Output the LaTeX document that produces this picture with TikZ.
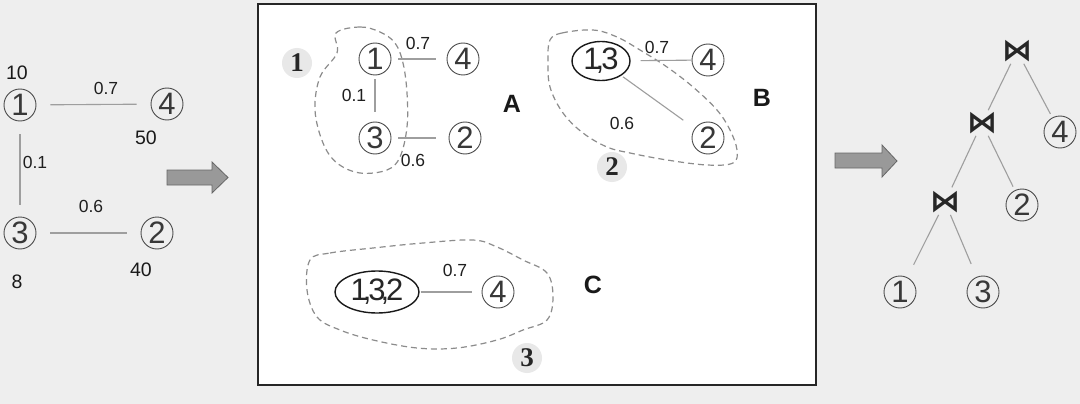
\documentclass[tikz,border=0pt]{standalone}
\usepackage{fontspec}
\setmainfont{Liberation Sans}
\newfontfamily\serifb{Liberation Serif}
\newfontfamily\djv{DejaVu Sans}
\usetikzlibrary{shapes.geometric}
\definecolor{bg}{HTML}{EEEEEE}
\tikzset{
  cnum/.style={circle, draw=black!70, line width=0.9pt, minimum size=32pt, inner sep=0pt,
    font=\fontsize{31}{31}\selectfont, text=black!78},
  wt/.style={font=\fontsize{17.5}{17.5}\selectfont, text=black!88},
  card/.style={font=\fontsize{19.5}{19.5}\selectfont, text=black!90},
  edge/.style={draw=black!38, line width=1.1pt},
  blob/.style={draw=black!45, dash pattern=on 6pt off 4pt, line width=1.2pt},
  grp/.style={font=\bfseries\fontsize{25}{25}\selectfont, text=black!90},
  tag/.style={circle, fill=black!9, minimum size=30pt, inner sep=0pt,
    font=\serifb\bfseries\fontsize{27}{27}\selectfont, text=black!85},
  ell/.style={ellipse, draw=black!90, line width=1.4pt, inner sep=0pt,
    font=\fontsize{31}{31}\selectfont, text=black!85},
  joinop/.style={inner sep=0pt, font=\djv\bfseries\fontsize{30}{30}\selectfont, text=black!85},
  bigarrow/.style={fill=black!40, draw=black!60, line width=0.8pt}
}
\begin{document}
\begin{tikzpicture}[x=1pt,y=-1pt]
\useasboundingbox (0,0) rectangle (1080,404);
\fill[bg] (0,0) rectangle (1080,404);
% ---------- left graph ----------
\node[card] (c10) at (17,73) {10};
\node[cnum] (L1) at (20,105) {1};
\node[cnum] (L4) at (167,104) {4};
\node[cnum] (L3) at (20,233) {3};
\node[cnum] (L2) at (157,233) {2};
\node[card] (c50) at (146,138) {50};
\node[card] (c8) at (17,282) {8};
\node[card] (c40) at (141,270) {40};
\draw[edge, shorten <=14pt, shorten >=14pt] (L1) -- (L4);
\draw[edge, shorten <=13pt, shorten >=12pt] (L1) -- (L3);
\draw[edge, shorten <=14pt, shorten >=14pt] (L3) -- (L2);
\node[wt] (w14) at (106,88) {0.7};
\node[wt] (w13) at (35,162) {0.1};
\node[wt] (w32) at (91,206) {0.6};
% arrow 1
\draw[bigarrow] (167,170) -- (212,170) -- (212,162) -- (228,177.5) -- (212,193) -- (212,185) -- (167,185) -- cycle;
% ---------- middle box ----------
\draw[fill=white, draw=black!85, line width=1.6pt] (258,4) rectangle (816,385);
% region A
\draw[blob] plot[smooth cycle, tension=0.6] coordinates {(336,33) (360,27) (380,32) (395,43) (403,63) (407,93) (407,127) (400,157) (387,170) (360,173) (337,163) (323,143) (315,110) (320,77) (337,53)};
\node[tag] (t1) at (297,63) {1};
\node[cnum] (A1) at (375,59) {1};
\node[cnum] (A4) at (463,59) {4};
\node[cnum] (A3) at (375,138) {3};
\node[cnum] (A2) at (465,138) {2};
\draw[edge, shorten <=7pt, shorten >=11pt] (A1) -- (A4);
\draw[edge, shorten <=4pt, shorten >=10pt] (A1) -- (A3);
\draw[edge, shorten <=7pt, shorten >=13pt] (A3) -- (A2);
\node[wt] (wa14) at (418,43) {0.7};
\node[wt] (wa13) at (354,95) {0.1};
\node[wt] (wa32) at (413,160) {0.6};
\node[grp] (gA) at (512,104) {A};
% region B
\draw[blob] plot[smooth cycle, tension=0.6] coordinates {(550,40) (562,33) (593,30) (617,37) (640,50) (667,67) (693,87) (717,110) (730,130) (737,150) (733,163) (707,165) (667,160) (630,153) (607,147) (583,133) (563,113) (550,87) (548,60)};
\node[ell, minimum width=58pt, minimum height=39pt] (B13) at (601,61) {1\kern-5pt,\kern-3pt3};
\node[cnum] (B4) at (708,60) {4};
\node[cnum] (B2) at (708,138) {2};
\draw[edge, shorten <=10pt, shorten >=0pt] (B13) -- (B4);
\draw[edge, shorten <=2pt, shorten >=14pt] (B13) -- (B2);
\node[wt] (wb4) at (657,47) {0.7};
\node[wt] (wb2) at (622,123) {0.6};
\node[grp] (gB) at (762,98) {B};
\node[tag] (t2) at (612,167) {2};
% region C
\draw[blob] plot[smooth cycle, tension=0.6] coordinates {(310,260) (330,253) (373,248) (423,243) (473,240) (497,247) (523,260) (547,273) (553,297) (547,320) (523,330) (497,340) (457,348) (417,348) (373,340) (340,330) (317,317) (307,290)};
\node[ell, minimum width=84pt, minimum height=42pt] (C132) at (377,292) {1\kern-5pt,\kern-3pt3\kern-5pt,\kern-3pt2};
\node[cnum] (C4) at (498,292) {4};
\draw[edge, shorten <=1pt, shorten >=10pt] (C132) -- (C4);
\node[wt] (wc4) at (455,270) {0.7};
\node[grp] (gC) at (593,285) {C};
\node[tag] (t3) at (527,358) {3};
% arrow 2
\draw[bigarrow] (835,153) -- (882,153) -- (882,145) -- (897,161) -- (882,177) -- (882,168) -- (835,168) -- cycle;
% ---------- join tree ----------
\node[joinop] (J1) at (1017,51) {⋈};
\node[joinop] (J2) at (982,123) {⋈};
\node[joinop] (J3) at (945,202) {⋈};
\node[cnum] (T4) at (1060,132) {4};
\node[cnum] (T2) at (1022,205) {2};
\node[cnum] (T1) at (900,292) {1};
\node[cnum] (T3) at (983,292) {3};
\draw[edge, shorten <=2pt, shorten >=2pt] (J1) -- (J2);
\draw[edge, shorten <=2pt, shorten >=4pt] (J1) -- (T4);
\draw[edge, shorten <=2pt, shorten >=4pt] (J2) -- (J3);
\draw[edge, shorten <=2pt, shorten >=4pt] (J2) -- (T2);
\draw[edge, shorten <=2pt, shorten >=14pt] (J3) -- (T1);
\draw[edge, shorten <=2pt, shorten >=14pt] (J3) -- (T3);
\end{tikzpicture}
\end{document}
